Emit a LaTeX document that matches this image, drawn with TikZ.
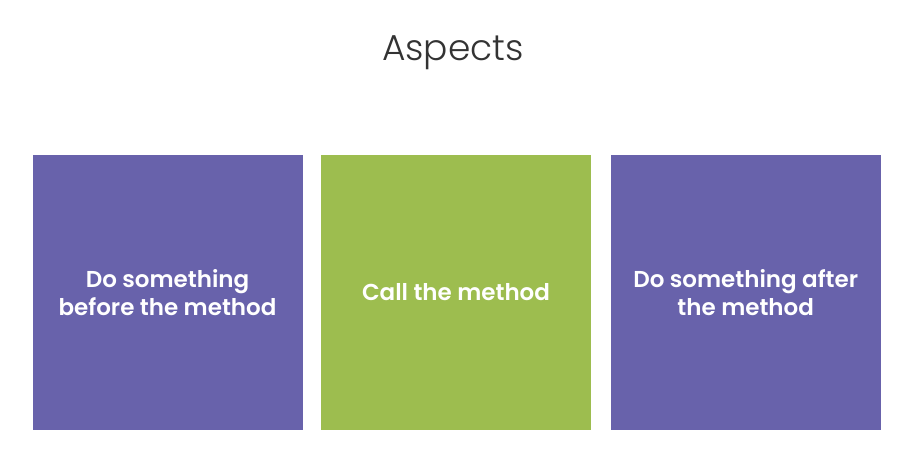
\documentclass[tikz,border=0pt]{standalone}
\usepackage{fontspec}
\setmainfont{Poppins}
\newfontfamily\titlefont{Poppins Light}
\newfontfamily\boxfont{Poppins SemiBold}
\definecolor{aspurple}{HTML}{6862AB}
\definecolor{asgreen}{HTML}{9DBD4F}
\definecolor{astitle}{HTML}{333333}
\begin{document}
\begin{tikzpicture}[x=1pt,y=-1pt,
  panel/.style={draw=none,minimum width=270pt,minimum height=275.5pt,inner sep=0pt,
    text=white,align=center,font=\boxfont\fontsize{23}{28}\selectfont},
  purplepanel/.style={panel,fill=aspurple},
  greenpanel/.style={panel,fill=asgreen}]
\useasboundingbox (0,0) rectangle (910,448);
\node[text=astitle,font=\titlefont\fontsize{36}{40}\selectfont,anchor=base] (title) at (453,60) {Aspects};
\node[purplepanel] (before) at (167.5,292.25) {Do something\\before the method};
\node[greenpanel] (call) at (456,292.25) {Call the method};
\node[purplepanel] (after) at (745.7,292.25) {Do something after\\the method};
\end{tikzpicture}
\end{document}
